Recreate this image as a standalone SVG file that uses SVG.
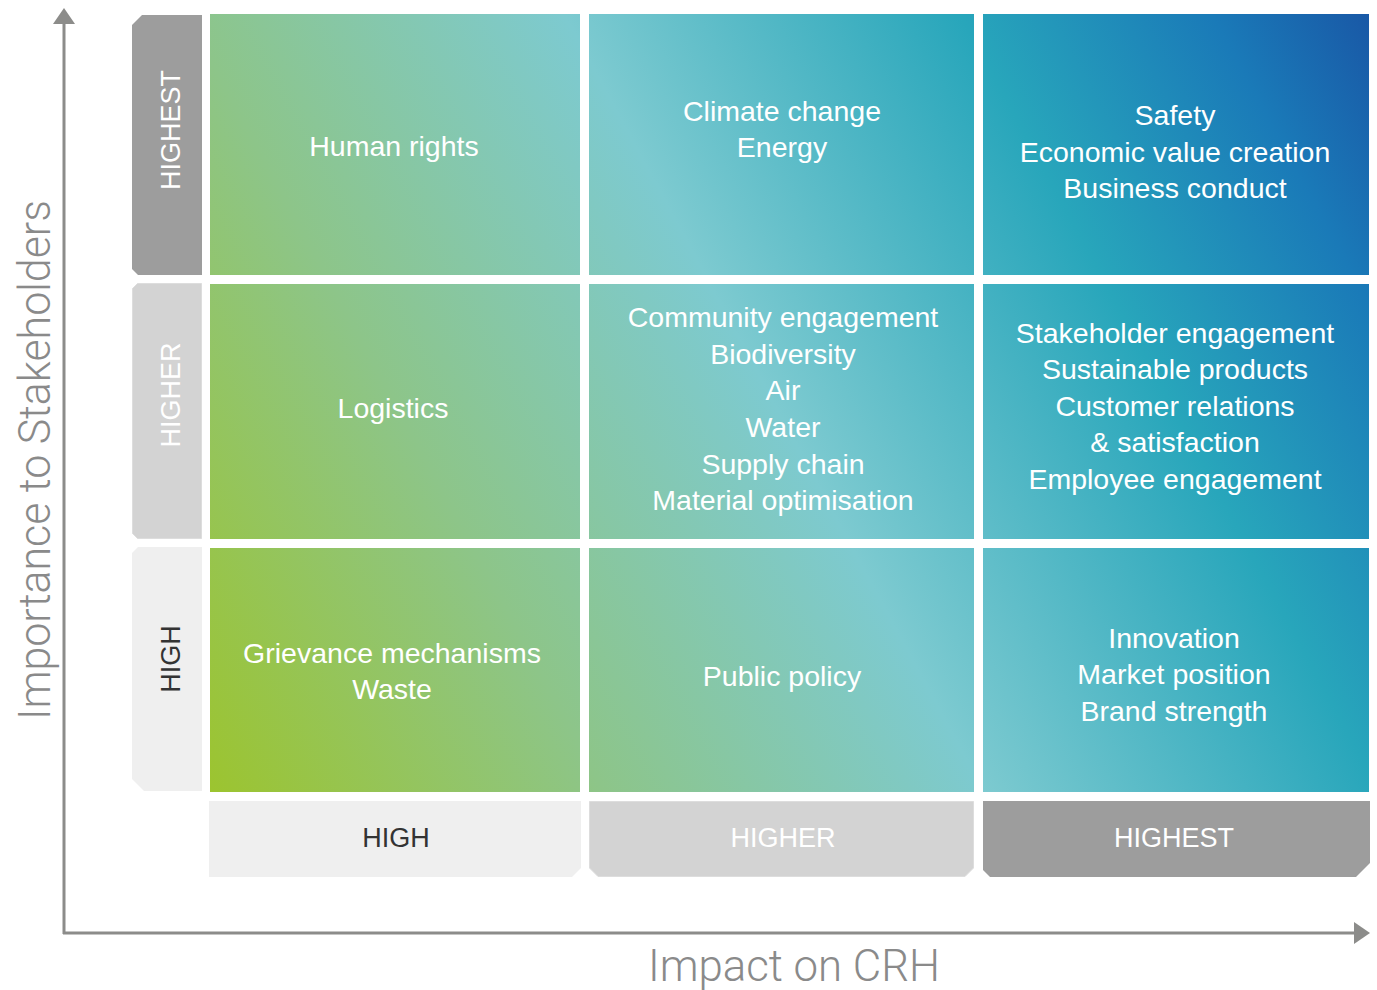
<svg xmlns="http://www.w3.org/2000/svg" width="1377" height="990" viewBox="0 0 1377 990">
<defs>
<linearGradient id="grad" gradientUnits="userSpaceOnUse" x1="178" y1="733" x2="1402" y2="73">
<stop offset="0" stop-color="#9cc42f"/>
<stop offset="0.25" stop-color="#8dc589"/>
<stop offset="0.49" stop-color="#7dcad0"/>
<stop offset="0.74" stop-color="#28a6bb"/>
<stop offset="0.9" stop-color="#1a7ab8"/>
<stop offset="1" stop-color="#1958a6"/>
</linearGradient>
<marker id="arrow" markerUnits="userSpaceOnUse" markerWidth="16" markerHeight="22" refX="0" refY="11" orient="auto">
<path d="M0,0 L16,11 L0,22 Z" fill="#8c8c8a"/>
</marker>
<style>
.cell{fill:url(#grad);}
.ct{font-family:"Liberation Sans",Arial,sans-serif;font-size:28.5px;fill:#ffffff;text-anchor:middle;}
.tl{font-family:"Liberation Sans",Arial,sans-serif;font-size:27px;text-anchor:middle;}
.t1{fill:#9d9d9d;}
.t2{fill:#d3d3d3;stroke:#dddddd;stroke-width:1;}
.t3{fill:#efefef;}
.w{fill:#ffffff;}
.d{fill:#333333;}
.axis{stroke:#8c8c8a;stroke-width:3;fill:none;marker-end:url(#arrow);}
.at{font-family:Roboto,"Liberation Sans",Arial,sans-serif;font-size:44px;fill:#8a8a8a;font-weight:300;text-anchor:middle;}
</style>
</defs>
<rect width="1377" height="990" fill="#ffffff"/>

<g id="connectors">
<path class="axis" d="M64,934 L64,24"/>
<path class="axis" d="M63,933 L1354,933"/>
</g>

<g id="axis-y-label"><text class="at" transform="translate(50,460) rotate(-90)" textLength="520" lengthAdjust="spacingAndGlyphs">Importance to Stakeholders</text></g>
<g id="axis-x-label"><text class="at" x="794" y="981" textLength="292" lengthAdjust="spacingAndGlyphs">Impact on CRH</text></g>

<g id="tab-left-highest">
<path class="t1" d="M142,15 L202,15 L202,275 L138,275 L132,269 L132,25 Z"/>
<text class="tl w" transform="translate(180,130) rotate(-90)">HIGHEST</text>
</g>
<g id="tab-left-higher">
<path class="t2" d="M137.5,283.5 L201.5,283.5 L201.5,538.5 L137.5,538.5 L132.5,533.5 L132.5,288.5 Z"/>
<text class="tl w" transform="translate(180,395) rotate(-90)">HIGHER</text>
</g>
<g id="tab-left-high">
<path class="t3" d="M138,547 L202,547 L202,791 L144,791 L132,779 L132,553 Z"/>
<text class="tl d" transform="translate(180,659) rotate(-90)">HIGH</text>
</g>

<g id="tab-bottom-high">
<path class="t3" d="M209,801 L581,801 L581,868 L572,877 L209,877 Z"/>
<text class="tl d" x="396" y="847">HIGH</text>
</g>
<g id="tab-bottom-higher">
<path class="t2" d="M589.5,801.5 L973.5,801.5 L973.5,868 L965,876.5 L598,876.5 L589.5,868 Z"/>
<text class="tl w" x="783" y="847">HIGHER</text>
</g>
<g id="tab-bottom-highest">
<path class="t1" d="M983,801 L1370,801 L1370,863 L1356,877 L990,877 L983,870 Z"/>
<text class="tl w" x="1174" y="847">HIGHEST</text>
</g>

<g id="cell-human-rights">
<rect class="cell" x="210" y="14" width="370" height="261"/>
<text class="ct" x="394" y="156">Human rights</text>
</g>
<g id="cell-climate">
<rect class="cell" x="589" y="14" width="385" height="261"/>
<text class="ct" x="782" y="121">Climate change</text>
<text class="ct" x="782" y="157">Energy</text>
</g>
<g id="cell-safety">
<rect class="cell" x="983" y="14" width="386" height="261"/>
<text class="ct" x="1175" y="125">Safety</text>
<text class="ct" x="1175" y="162">Economic value creation</text>
<text class="ct" x="1175" y="198">Business conduct</text>
</g>
<g id="cell-logistics">
<rect class="cell" x="210" y="284" width="370" height="255"/>
<text class="ct" x="393" y="418">Logistics</text>
</g>
<g id="cell-community">
<rect class="cell" x="589" y="284" width="385" height="255"/>
<text class="ct" x="783" y="327">Community engagement</text>
<text class="ct" x="783" y="364">Biodiversity</text>
<text class="ct" x="783" y="400">Air</text>
<text class="ct" x="783" y="437">Water</text>
<text class="ct" x="783" y="474">Supply chain</text>
<text class="ct" x="783" y="510">Material optimisation</text>
</g>
<g id="cell-stakeholder">
<rect class="cell" x="983" y="284" width="386" height="255"/>
<text class="ct" x="1175" y="343">Stakeholder engagement</text>
<text class="ct" x="1175" y="379">Sustainable products</text>
<text class="ct" x="1175" y="416">Customer relations</text>
<text class="ct" x="1175" y="452">&amp; satisfaction</text>
<text class="ct" x="1175" y="489">Employee engagement</text>
</g>
<g id="cell-grievance">
<rect class="cell" x="210" y="548" width="370" height="244"/>
<text class="ct" x="392" y="663">Grievance mechanisms</text>
<text class="ct" x="392" y="699">Waste</text>
</g>
<g id="cell-public-policy">
<rect class="cell" x="589" y="548" width="385" height="244"/>
<text class="ct" x="782" y="686">Public policy</text>
</g>
<g id="cell-innovation">
<rect class="cell" x="983" y="548" width="386" height="244"/>
<text class="ct" x="1174" y="648">Innovation</text>
<text class="ct" x="1174" y="684">Market position</text>
<text class="ct" x="1174" y="721">Brand strength</text>
</g>
</svg>
